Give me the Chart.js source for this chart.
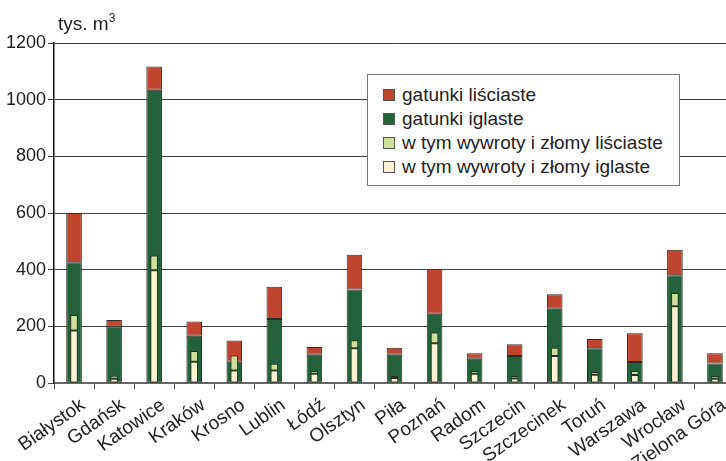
<!DOCTYPE html>
<html>
<head>
<meta charset="utf-8">
<script src="https://cdn.jsdelivr.net/npm/chart.js@4.4.1/dist/chart.umd.min.js"></script>
<style>
    html, body { margin: 0; padding: 0; overflow: hidden; background: #fff; }
    #wrap { position: relative; width: 736px; height: 461px; }
    #unit { position: absolute; left: 58px; top: 12px; font: 19px 'Liberation Sans', Arial, sans-serif; color: #222; }
    #unit sup { font-size: 12px; position: relative; top: -1px; }
    #legend { position: absolute; left: 367px; top: 74px; width: 313px; height: 112px; box-sizing: border-box;
              border: 1px solid #777; background: #fff; padding-top: 8px;
              font: 19px 'Liberation Sans', Arial, sans-serif; color: #222; }
    .row { display: flex; align-items: center; height: 24px; padding-left: 15px; }
    .sw { width: 12px; height: 12px; border: 1px solid #555; box-sizing: border-box; margin-right: 7px; }
</style>
</head>
<body>
<div id="wrap">
    <canvas id="chart" width="736" height="461"></canvas>
    <div id="unit">tys. m<sup>3</sup></div>
    <div id="legend"></div>
</div>
<script>
// regions (regionalne dyrekcje)
const regions = ['Białystok', 'Gdańsk', 'Katowice', 'Kraków', 'Krosno', 'Lublin', 'Łódź', 'Olsztyn', 'Piła',
    'Poznań', 'Radom', 'Szczecin', 'Szczecinek', 'Toruń', 'Warszawa', 'Wrocław', 'Zielona Góra'];

// values in tys. m3
const iglaste = [426, 199, 1035, 167, 75, 226, 100, 330, 100, 244, 86, 95, 262, 123, 74, 380, 69];
const lisciaste = [174, 23, 82, 50, 75, 114, 27, 123, 24, 159, 19, 42, 51, 32, 102, 90, 36];
const wywrotyIglaste = [185, 15, 398, 75, 44, 44, 33, 123, 18, 140, 33, 16, 95, 29, 28, 271, 15];
const wywrotyLisciaste = [55, 11, 52, 38, 53, 24, 9, 28, 7, 38, 9, 9, 29, 10, 14, 47, 10];

const yTicks = [0, 200, 400, 600, 800, 1000, 1200];

const colors = {
    lisciaste: '#bf452f',
    iglaste: '#23613a',
    wywLisc: '#cfe09b',
    wywIgl: '#fbf3d2'
};
const edge = '#2b2b2b';
const font = "'Liberation Sans', Arial, sans-serif";

// legend (html, so it can sit inside the plot with a frame)
const legendItems = [
    ['gatunki liściaste', colors.lisciaste],
    ['gatunki iglaste', colors.iglaste],
    ['w tym wywroty i złomy liściaste', colors.wywLisc],
    ['w tym wywroty i złomy iglaste', colors.wywIgl]
];
const legend = document.getElementById('legend');
legendItems.forEach(item => {
    const row = document.createElement('div');
    row.className = 'row';
    row.innerHTML = '<span class="sw" style="background:' + item[1] + '"></span><span>' + item[0] + '</span>';
    legend.appendChild(row);
});

const ctx = document.getElementById('chart').getContext('2d');
new Chart(ctx, {
    type: 'bar',
    data: {
        labels: regions,
        datasets: [
            // inner bars first so they are drawn on top
            { label: 'w tym wywroty i złomy iglaste', data: wywrotyIglaste, stack: 'inner',
              backgroundColor: colors.wywIgl, barPercentage: 0.19 },
            { label: 'w tym wywroty i złomy liściaste', data: wywrotyLisciaste, stack: 'inner',
              backgroundColor: colors.wywLisc, barPercentage: 0.19 },
            { label: 'gatunki iglaste', data: iglaste, stack: 'outer',
              backgroundColor: colors.iglaste, barPercentage: 0.39 },
            { label: 'gatunki liściaste', data: lisciaste, stack: 'outer',
              backgroundColor: colors.lisciaste, barPercentage: 0.39 }
        ].map(ds => Object.assign(ds, { grouped: false, categoryPercentage: 1, borderColor: edge, borderWidth: 1, borderSkipped: false }))
    },
    options: {
        responsive: false,
        animation: false,
        layout: { padding: { top: 43, left: 0, right: 1, bottom: 0 } },
        plugins: { legend: { display: false }, tooltip: { enabled: false } },
        scales: {
            x: {
                stacked: true,
                offset: true,
                afterFit: scale => { scale.height = 78; },
                grid: { offset: true, drawOnChartArea: false, drawTicks: true, tickLength: 6, color: '#555' },
                border: { display: true, color: '#666', width: 2 },
                ticks: { color: '#222', font: { family: font, size: 19 }, minRotation: 35, maxRotation: 35,
                         padding: 5, labelOffset: 9, autoSkip: false }
            },
            y: {
                stacked: true,
                min: 0,
                max: 1200,
                afterFit: scale => { scale.width = 54; },
                afterBuildTicks: scale => { scale.ticks = yTicks.map(v => ({ value: v })); },
                grid: { color: '#444', lineWidth: 1, tickLength: 6, drawTicks: true },
                border: { display: true, color: '#111', width: 1.5 },
                ticks: { color: '#222', font: { family: font, size: 18 }, padding: 2, callback: v => String(v) }
            }
        }
    }
});
</script>
</body>
</html>
